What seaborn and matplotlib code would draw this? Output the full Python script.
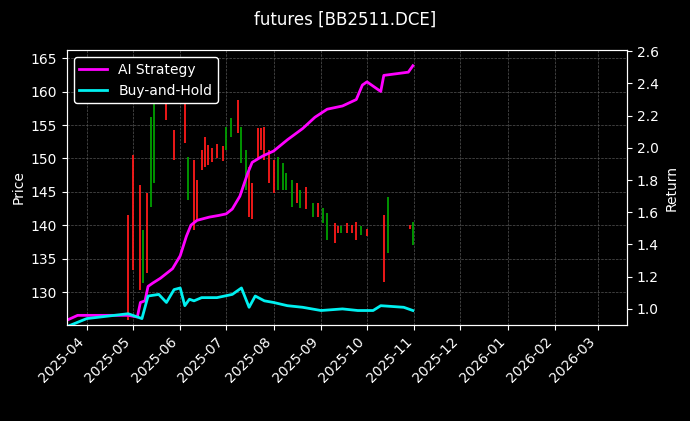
import matplotlib
matplotlib.use("Agg")
import matplotlib.pyplot as plt
import matplotlib.dates as mdates
import seaborn as sns
import pandas as pd

# Candles (date, high, low, up?)
c_dates = ["2025-03-19","2025-04-28","2025-05-01","2025-05-06","2025-05-08","2025-05-10","2025-05-13","2025-05-15",
           "2025-05-23","2025-05-28","2025-06-04","2025-06-06","2025-06-10","2025-06-12","2025-06-15","2025-06-17",
           "2025-06-19","2025-06-22","2025-06-25","2025-06-29","2025-07-01","2025-07-04","2025-07-09","2025-07-11",
           "2025-07-14","2025-07-16","2025-07-18","2025-07-22","2025-07-24","2025-07-26","2025-07-29","2025-08-01",
           "2025-08-04","2025-08-07","2025-08-09","2025-08-13","2025-08-16","2025-08-18","2025-08-22","2025-08-27",
           "2025-08-30","2025-09-02","2025-09-05","2025-09-10","2025-09-12","2025-09-14","2025-09-18","2025-09-21",
           "2025-09-24","2025-09-27","2025-10-01","2025-10-12","2025-10-15","2025-10-29","2025-10-31"]
c_high = [147.2,141.5,150.5,146.0,139.3,144.8,156.2,161.3,160.2,154.2,161.3,150.2,149.8,146.8,151.2,153.2,
          152.0,151.5,152.2,151.8,154.7,156.0,158.7,154.7,151.2,148.7,146.3,154.5,154.5,154.7,151.2,149.8,
          150.2,149.3,147.8,146.8,146.3,145.3,145.8,143.3,143.3,142.6,141.8,140.3,139.9,139.9,140.3,140.1,
          140.5,139.9,139.4,141.5,144.2,140.0,140.5]
c_low = [135.3,125.8,133.3,130.3,131.4,132.9,142.7,146.3,155.7,149.8,152.3,143.8,139.3,140.8,148.3,148.7,
         149.0,149.5,150.0,149.6,151.2,153.2,153.8,149.3,145.3,141.2,141.0,149.8,151.2,149.8,146.3,144.8,
         145.3,145.3,145.3,142.7,143.3,142.6,142.5,141.2,141.2,140.3,137.8,137.3,138.9,138.9,138.8,138.9,
         137.8,138.6,138.4,131.5,135.9,139.5,137.0]
c_up = [1,0,0,0,1,0,1,1,0,0,0,1,0,0,0,0,
        0,0,0,0,1,1,0,1,1,0,0,0,0,0,0,0,
        1,1,1,1,0,1,0,1,0,1,1,0,0,1,0,0,
        0,1,0,0,1,0,1]

# Returns
ai_dates = ["2025-03-19","2025-03-26","2025-04-28","2025-05-04","2025-05-06","2025-05-09","2025-05-11","2025-05-14",
            "2025-05-19","2025-05-27","2025-06-01","2025-06-05","2025-06-08","2025-06-12","2025-06-20","2025-06-26",
            "2025-07-01","2025-07-05","2025-07-10","2025-07-15","2025-07-18","2025-07-25","2025-08-01","2025-08-10",
            "2025-08-20","2025-08-28","2025-09-05","2025-09-15","2025-09-24","2025-09-28","2025-10-01","2025-10-10",
            "2025-10-12","2025-10-20","2025-10-28","2025-10-31"]
ai_ret = [0.93,0.96,0.96,0.95,1.04,1.05,1.14,1.16,1.19,1.25,1.33,1.45,1.52,1.55,1.57,1.58,
          1.59,1.62,1.70,1.84,1.91,1.95,1.98,2.05,2.12,2.19,2.24,2.26,2.30,2.39,2.41,2.35,
          2.45,2.46,2.47,2.51]
bh_dates = ["2025-03-19","2025-04-01","2025-04-28","2025-05-04","2025-05-07","2025-05-11","2025-05-18","2025-05-23",
            "2025-05-28","2025-06-01","2025-06-04","2025-06-07","2025-06-10","2025-06-15","2025-06-25","2025-07-05",
            "2025-07-11","2025-07-16","2025-07-20","2025-07-26","2025-08-01","2025-08-10","2025-08-20","2025-09-01",
            "2025-09-15","2025-09-25","2025-10-05","2025-10-10","2025-10-25","2025-10-31"]
bh_ret = [0.89,0.94,0.97,0.95,0.94,1.08,1.09,1.04,1.12,1.13,1.02,1.06,1.05,1.07,1.07,1.09,
          1.13,1.01,1.08,1.05,1.04,1.02,1.01,0.99,1.00,0.99,0.99,1.02,1.01,0.99]

plt.style.use("dark_background")
fig = plt.figure(figsize=(6.9, 4.21), dpi=100, facecolor="black")
ax = fig.add_axes([0.097, 0.228, 0.812, 0.653])
ax.set_facecolor("black")
cd = pd.to_datetime(c_dates)
cols = ["#00a000" if u else "#ff1a1a" for u in c_up]
ax.vlines(cd, c_low, c_high, colors=cols, linewidth=1.3)
ax.set_ylim(125.1, 166.2)
ax.set_ylabel("Price", color="white")
ax.grid(True, linestyle="--", linewidth=0.5, color="#555555")
ax.set_xlim(pd.Timestamp("2025-03-19"), pd.Timestamp("2026-03-20"))

ax2 = ax.twinx()
df_ai = pd.DataFrame({"date": pd.to_datetime(ai_dates), "ret": ai_ret})
df_bh = pd.DataFrame({"date": pd.to_datetime(bh_dates), "ret": bh_ret})
sns.lineplot(data=df_ai, x="date", y="ret", ax=ax2, color="#ff00ff", linewidth=2, label="AI Strategy")
sns.lineplot(data=df_bh, x="date", y="ret", ax=ax2, color="#00f0f0", linewidth=2, label="Buy-and-Hold")
ax2.set_ylim(0.90, 2.607)
ax2.set_ylabel("Return", color="white")
ax2.set_xlabel("")
ax2.set_xlim(pd.Timestamp("2025-03-19"), pd.Timestamp("2026-03-20"))
leg = ax2.legend(loc="upper left", facecolor="black", edgecolor="white", framealpha=1)
ax.xaxis.set_major_locator(mdates.MonthLocator())
ax.xaxis.set_major_formatter(mdates.DateFormatter("%Y-%m"))
for lbl in ax.get_xticklabels():
    lbl.set_rotation(45); lbl.set_ha("right")
fig.suptitle("futures [BB2511.DCE]", y=0.975, fontsize=12)
fig.savefig("out.png", dpi=100, facecolor="black")
